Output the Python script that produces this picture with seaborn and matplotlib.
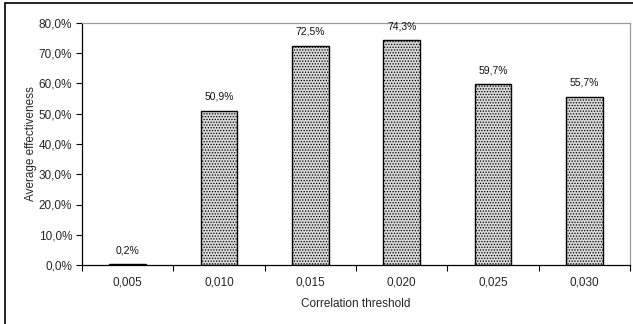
import matplotlib
matplotlib.use("Agg")
import matplotlib.pyplot as plt
import seaborn as sns
import pandas as pd
from matplotlib.ticker import FuncFormatter, FixedLocator
from matplotlib.lines import Line2D

thresholds = ["0,005", "0,010", "0,015", "0,020", "0,025", "0,030"]
effectiveness = [0.2, 50.9, 72.5, 74.3, 59.7, 55.7]
value_labels = ["0,2%", "50,9%", "72,5%", "74,3%", "59,7%", "55,7%"]

sns.set_style("white")
plt.rcParams["font.family"] = ["Liberation Sans", "DejaVu Sans"]
plt.rcParams["hatch.color"] = "#9c9c9c"
plt.rcParams["hatch.linewidth"] = 0.6

df = pd.DataFrame({"threshold": thresholds, "effectiveness": effectiveness})

fig = plt.figure(figsize=(6.33, 3.24), dpi=100)
ax = fig.add_axes([82 / 633, 1 - 265 / 324, (630 - 82) / 633, (265 - 23) / 324])

sns.barplot(data=df, x="threshold", y="effectiveness", ax=ax, width=0.4,
            color="#d6d6d6", edgecolor="black", linewidth=1.0, saturation=1)
for p in ax.patches:
    p.set_hatch("......")
    p.set_facecolor("#d8d8d8")
    p.set_edgecolor("black")

for i, (v, lab) in enumerate(zip(effectiveness, value_labels)):
    ax.text(i, v + 3.0, lab, ha="center", va="bottom", fontsize=7.5, color="#111111")

ax.set_ylim(0, 80)
ax.set_xlim(-0.5, len(thresholds) - 0.5)
ax.yaxis.set_major_locator(FixedLocator([0, 10, 20, 30, 40, 50, 60, 70, 80]))
ax.yaxis.set_major_formatter(FuncFormatter(lambda v, _: f"{v:.1f}%".replace(".", ",")))

# ticks between categories on x axis
ax.set_xticks(range(len(thresholds)))
ax.set_xticklabels(thresholds)
ax.set_xticks([i + 0.5 for i in range(-1, len(thresholds))], minor=True)
ax.tick_params(axis="x", which="major", length=0, pad=8, labelsize=8.5)
ax.tick_params(axis="x", which="minor", length=4, width=0.8, color="black", direction="out", bottom=True)
ax.tick_params(axis="y", length=4, width=0.8, color="black", direction="out", left=True, labelsize=8.5, pad=3)

for side in ["left", "bottom"]:
    ax.spines[side].set_color("black")
    ax.spines[side].set_linewidth(0.9)
for side in ["top", "right"]:
    ax.spines[side].set_visible(True)
    ax.spines[side].set_color("#9a9a9a")
    ax.spines[side].set_linewidth(0.9)

ax.set_xlabel("Correlation threshold", fontsize=8.5, labelpad=7)
ax.set_ylabel("Average effectiveness", fontsize=8.5, labelpad=1)

# outer chart frame
fig.add_artist(Line2D([5 / 633, 5 / 633], [0, 1 - 3 / 324], transform=fig.transFigure, color="black", lw=1.2))
fig.add_artist(Line2D([5 / 633, 1], [1 - 3 / 324, 1 - 3 / 324], transform=fig.transFigure, color="black", lw=1.2))

fig.savefig("out.png", dpi=100, facecolor="white")
